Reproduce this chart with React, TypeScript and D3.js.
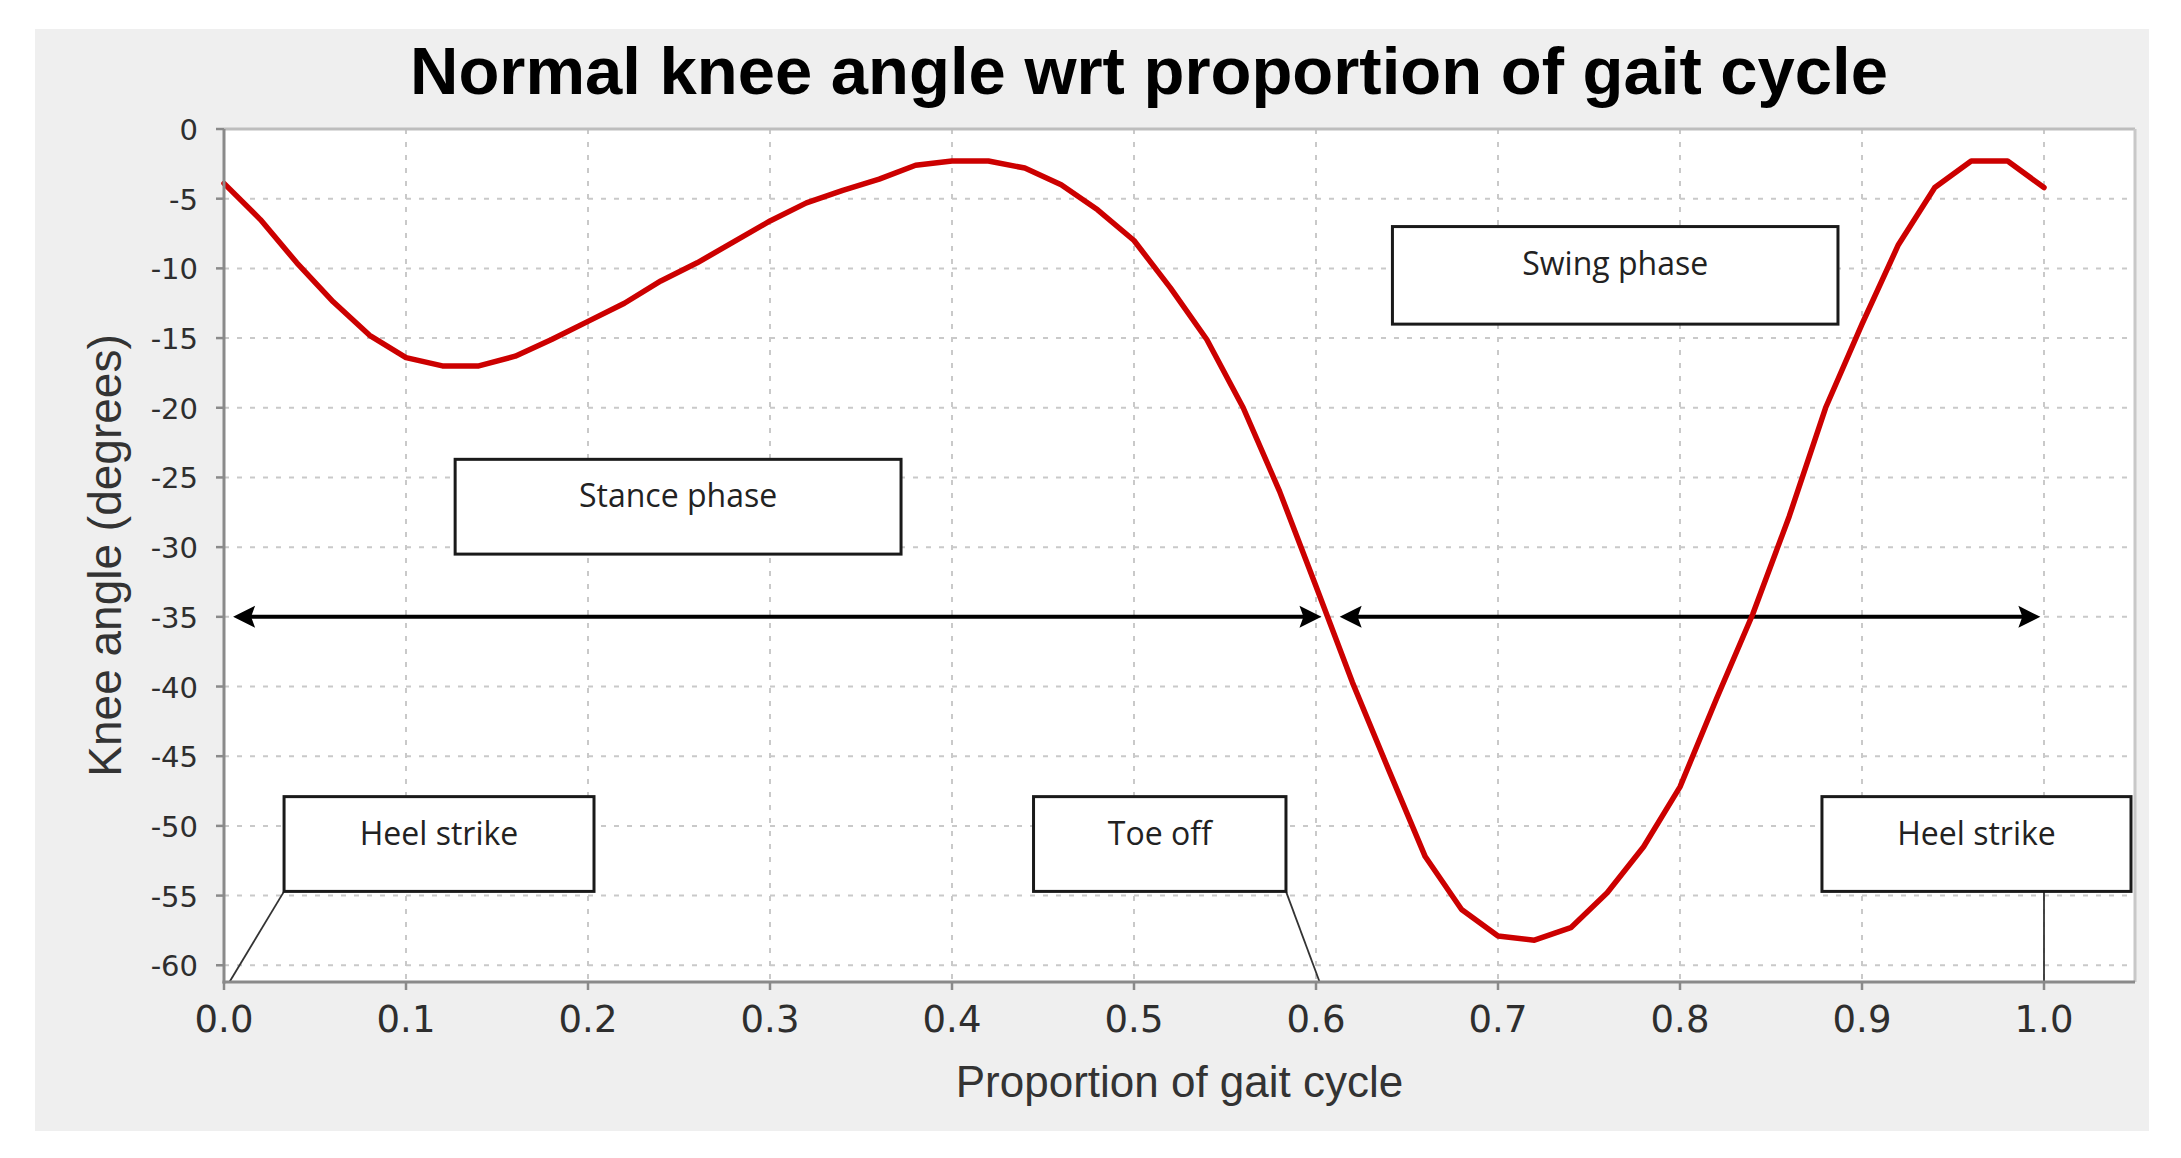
import React from "react";
import * as d3 from "d3";

// ---------- data ----------
const gaitProportion = [
  0.0, 0.02, 0.04, 0.06, 0.08, 0.1, 0.12, 0.14, 0.16, 0.18, 0.2, 0.22, 0.24, 0.26, 0.28, 0.3, 0.32,
  0.34, 0.36, 0.38, 0.4, 0.42, 0.44, 0.46, 0.48, 0.5, 0.52, 0.54, 0.56, 0.58, 0.6, 0.62, 0.64, 0.66,
  0.68, 0.7, 0.72, 0.74, 0.76, 0.78, 0.8, 0.82, 0.84, 0.86, 0.88, 0.9, 0.92, 0.94, 0.96, 0.98, 1.0,
];
const kneeAngle = [
  -3.9, -6.5, -9.6, -12.4, -14.8, -16.4, -17.0, -17.0, -16.3, -15.1, -13.8, -12.5, -10.9, -9.6, -8.1,
  -6.6, -5.3, -4.4, -3.6, -2.6, -2.3, -2.3, -2.8, -4.0, -5.8, -8.0, -11.4, -15.1, -20.0, -26.0, -32.8,
  -39.7, -46.0, -52.2, -56.0, -57.9, -58.2, -57.3, -54.8, -51.5, -47.2, -40.9, -34.8, -27.8, -20.0,
  -14.0, -8.3, -4.2, -2.3, -2.3, -4.2,
];
const xTicks = [0.0, 0.1, 0.2, 0.3, 0.4, 0.5, 0.6, 0.7, 0.8, 0.9, 1.0];
const yTicks = [0, -5, -10, -15, -20, -25, -30, -35, -40, -45, -50, -55, -60];
const xDomain = [0, 1.05];
const yDomain = [-61.2, 0];

const titleText = "Normal knee angle wrt proportion of gait cycle";
const xLabelText = "Proportion of gait cycle";
const yLabelText = "Knee angle (degrees)";

// annotation boxes (data coordinates)
const boxLabels = ["Stance phase", "Swing phase", "Heel strike", "Toe off", "Heel strike"];
const boxX0 = [0.127, 0.642, 0.033, 0.4448, 0.878];
const boxX1 = [0.372, 0.8868, 0.2033, 0.5835, 1.0478];
const boxYTop = [-23.7, -7.0, -47.9, -47.9, -47.9];
const boxYBottom = [-30.5, -14.0, -54.7, -54.7, -54.7];

// phase arrows (data coordinates)
const arrowY = -35;
const arrowFrom = [0.005, 0.613];
const arrowTo = [0.603, 0.998];

// leader lines: from box corner to event point on axis
const leaderFromX = [0.033, 0.5835, 1.0];
const leaderFromY = [-54.7, -54.7, -54.7];
const leaderToX = [0.003, 0.602, 1.0];
const leaderToY = [-61.2, -61.2, -61.2];

// ---------- layout ----------
const W = 2181;
const H = 1158;
const plot = { left: 224, right: 2135, top: 129, bottom: 982 };

export default function App() {
  const x = d3.scaleLinear().domain(xDomain).range([plot.left, plot.right]);
  const y = d3.scaleLinear().domain(yDomain).range([plot.bottom, plot.top]);

  const pts = gaitProportion.map((g, i) => [g, kneeAngle[i]] as [number, number]);
  const line = d3
    .line<[number, number]>()
    .x((d) => x(d[0]))
    .y((d) => y(d[1]))
    .curve(d3.curveLinear);

  const gridColor = "#c9c9c9";
  const axisColor = "#8a8a8a";
  const tickTextColor = "#2e2e2e";

  const arrowHead = (tipX: number, tipY: number, dir: number) => {
    const len = 22;
    const half = 11;
    const bx = tipX - dir * len;
    return `M${tipX},${tipY} L${bx},${tipY - half} L${bx + dir * 4},${tipY} L${bx},${tipY + half} Z`;
  };

  return (
    <svg
      width={W}
      height={H}
      viewBox={`0 0 ${W} ${H}`}
      style={{ position: "absolute", left: 0, top: 0, background: "#ffffff" }}
    >
      {/* gray panel */}
      <rect x={35} y={29} width={2114} height={1102} fill="#efefef" />
      {/* plot area */}
      <rect
        x={plot.left}
        y={plot.top}
        width={plot.right - plot.left}
        height={plot.bottom - plot.top}
        fill="#ffffff"
      />

      {/* grid */}
      <g>
        {xTicks
          .filter((t) => t > 0)
          .map((t, i) => (
            <line
              key={"gx" + i}
              x1={x(t)}
              x2={x(t)}
              y1={plot.top}
              y2={plot.bottom}
              stroke={gridColor}
              strokeWidth={2}
              strokeDasharray="5,8"
            />
          ))}
        {yTicks
          .filter((t) => t < 0)
          .map((t, i) => (
            <line
              key={"gy" + i}
              x1={plot.left}
              x2={plot.right}
              y1={y(t)}
              y2={y(t)}
              stroke={gridColor}
              strokeWidth={2}
              strokeDasharray="5,8"
            />
          ))}
      </g>

      {/* plot border top/right */}
      <line x1={plot.left} x2={plot.right} y1={plot.top} y2={plot.top} stroke="#bdbdbd" strokeWidth={3} />
      <line x1={plot.right} x2={plot.right} y1={plot.top} y2={plot.bottom} stroke="#c8c8c8" strokeWidth={3} />

      {/* phase arrows */}
      {arrowFrom.map((f, i) => {
        const x0 = x(f);
        const x1 = x(arrowTo[i]);
        const yy = y(arrowY);
        return (
          <g key={"ar" + i}>
            <line x1={x0 + 15} x2={x1 - 15} y1={yy} y2={yy} stroke="#000" strokeWidth={4} />
            <path d={arrowHead(x0, yy, -1)} fill="#000" />
            <path d={arrowHead(x1, yy, 1)} fill="#000" />
          </g>
        );
      })}

      {/* knee angle curve */}
      <path
        d={line(pts) || ""}
        fill="none"
        stroke="#cc0000"
        strokeWidth={5.5}
        strokeLinejoin="round"
        strokeLinecap="round"
      />

      {/* leader lines */}
      {leaderFromX.map((fx, i) => (
        <line
          key={"ld" + i}
          x1={x(fx)}
          y1={y(leaderFromY[i])}
          x2={x(leaderToX[i])}
          y2={y(leaderToY[i])}
          stroke="#333"
          strokeWidth={1.8}
        />
      ))}

      {/* annotation boxes */}
      {boxLabels.map((lab, i) => {
        const bx0 = x(boxX0[i]);
        const bx1 = x(boxX1[i]);
        const by0 = y(boxYTop[i]);
        const by1 = y(boxYBottom[i]);
        return (
          <g key={"bx" + i}>
            <rect
              x={bx0}
              y={by0}
              width={bx1 - bx0}
              height={by1 - by0}
              fill="#ffffff"
              stroke="#1a1a1a"
              strokeWidth={3}
            />
            <text
              x={(bx0 + bx1) / 2}
              y={by0 + 48}
              textAnchor="middle"
              fontFamily="'Open Sans', sans-serif"
              fontSize={32}
              fill="#222"
            >
              {lab}
            </text>
          </g>
        );
      })}

      {/* axes */}
      <line x1={plot.left} x2={plot.left} y1={plot.top} y2={plot.bottom + 1.5} stroke={axisColor} strokeWidth={3} />
      <line x1={plot.left - 1.5} x2={plot.right} y1={plot.bottom} y2={plot.bottom} stroke={axisColor} strokeWidth={3} />

      {/* y ticks */}
      {yTicks.map((t, i) => (
        <g key={"yt" + i}>
          <line x1={plot.left - 8} x2={plot.left} y1={y(t)} y2={y(t)} stroke={axisColor} strokeWidth={2.5} />
          <text
            x={plot.left - 26}
            y={y(t) + 11}
            textAnchor="end"
            fontFamily="'DejaVu Sans', sans-serif"
            fontSize={29}
            fill={tickTextColor}
          >
            {t === 0 ? "0" : String(t)}
          </text>
        </g>
      ))}

      {/* x ticks */}
      {xTicks.map((t, i) => (
        <g key={"xt" + i}>
          <line x1={x(t)} x2={x(t)} y1={plot.bottom} y2={plot.bottom + 8} stroke={axisColor} strokeWidth={2.5} />
          <text
            x={x(t)}
            y={plot.bottom + 50}
            textAnchor="middle"
            fontFamily="'DejaVu Sans', sans-serif"
            fontSize={37}
            fill={tickTextColor}
          >
            {d3.format(".1f")(t)}
          </text>
        </g>
      ))}

      {/* axis labels */}
      <text
        x={(plot.left + plot.right) / 2}
        y={1097}
        textAnchor="middle"
        fontFamily="'Liberation Sans', Arial, sans-serif"
        fontSize={44}
        fill="#333"
      >
        {xLabelText}
      </text>
      <text
        transform={`translate(121, ${(plot.top + plot.bottom) / 2}) rotate(-90)`}
        textAnchor="middle"
        fontFamily="'Liberation Sans', Arial, sans-serif"
        fontSize={46}
        fill="#333"
      >
        {yLabelText}
      </text>

      {/* title */}
      <text
        x={1149}
        y={94}
        textAnchor="middle"
        fontFamily="'Liberation Sans', Arial, sans-serif"
        fontWeight="bold"
        fontSize={67}
        fill="#000"
      >
        {titleText}
      </text>
    </svg>
  );
}
